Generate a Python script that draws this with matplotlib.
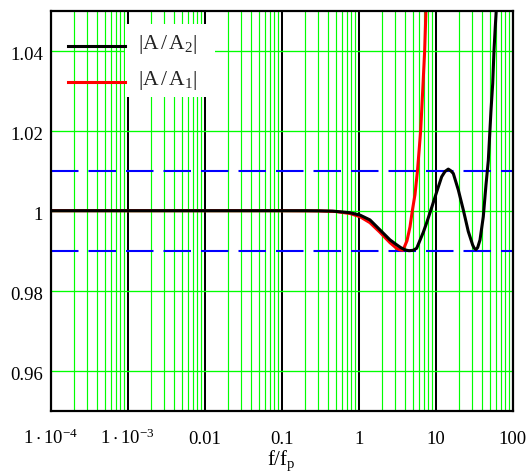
import matplotlib
matplotlib.use('Agg')
import matplotlib.pyplot as plt
import matplotlib.transforms as mtransforms
from matplotlib.patches import Rectangle
from matplotlib.lines import Line2D
from matplotlib.ticker import LogLocator, FixedLocator, NullLocator

plt.rcParams['font.family'] = ['Liberation Serif', 'DejaVu Serif']
plt.rcParams['mathtext.fontset'] = 'custom'
plt.rcParams['mathtext.rm'] = 'Liberation Serif'
plt.rcParams['mathtext.it'] = 'Liberation Serif:italic'

# ---- data ----
f_black = [1e-4, 1e-3, 1e-2, 0.1, 0.2, 0.3, 0.46, 0.77, 1.04, 1.4, 1.89, 2.55,
           3.1, 3.5, 4.0, 4.5, 5.1, 5.66, 6.25, 6.9, 7.64, 8.87, 10.3, 11.96,
           13.2, 14.57, 15.66, 16.93, 19.66, 22.83, 26.5, 30.24, 31.7, 33.38,
           35.1, 37.61, 41.51, 45.0, 48.2, 52.3, 55.0, 57.2, 59.4, 61.2, 63.0]
y_black = [1.0, 1.0, 1.0, 1.0, 1.0, 0.99997, 0.9999, 0.9995, 0.9989, 0.9977,
           0.9952, 0.9927, 0.9915, 0.9908, 0.9902, 0.9900, 0.9901, 0.9906,
           0.9926, 0.9946, 0.9970, 1.0008, 1.0047, 1.0085, 1.0098, 1.0104,
           1.0100, 1.0093, 1.0052, 1.0002, 0.9948, 0.9914, 0.9906, 0.9903,
           0.9908, 0.9927, 0.9985, 1.0065, 1.0125, 1.0252, 1.0318, 1.0402,
           1.0460, 1.0502, 1.056]

f_red = [1e-4, 1e-2, 0.1, 0.3, 0.5, 0.77, 1.04, 1.4, 1.89, 2.55, 3.1, 3.44,
         3.76, 4.24, 4.64, 4.97, 5.38, 5.8, 6.38, 6.8, 7.19, 7.47, 7.8]
y_red = [1.0, 1.0, 1.0, 0.99995, 0.9998, 0.9993, 0.9985, 0.9970, 0.9946,
         0.9920, 0.9906, 0.9902, 0.9901, 0.9925, 0.9960, 1.0, 1.0040, 1.01,
         1.02, 1.0305, 1.04, 1.05, 1.06]

limits = [0.99, 1.01]

x_ticks = [1e-4, 1e-3, 1e-2, 0.1, 1, 10, 100]
x_ticklabels = [r'$\mathregular{1\cdot10^{-4}}$', r'$\mathregular{1\cdot10^{-3}}$',
                '0.01', '0.1', '1', '10', '100']
y_ticks = [0.96, 0.98, 1.00, 1.02, 1.04]
y_ticklabels = ['0.96', '0.98', '1', '1.02', '1.04']

label_black = r'$\mathregular{|A\,/\,A_2|}$'
label_red = r'$\mathregular{|A\,/\,A_1|}$'
x_label = r'$\mathregular{f/f_p}$'

# ---- figure ----
W, H, DPI = 532, 473, 100
fig = plt.figure(figsize=(W / DPI, H / DPI), dpi=DPI)
L, R, T, B = 50.7, 512.7, 10.7, 410.7
ax = fig.add_axes([L / W, 1 - B / H, (R - L) / W, (B - T) / H])
ax.set_xscale('log')
ax.set_xlim(1e-4, 100)
ax.set_ylim(0.95, 1.05)

ax.xaxis.set_major_locator(FixedLocator(x_ticks))
ax.xaxis.set_minor_locator(LogLocator(base=10, subs=range(2, 10), numticks=50))
ax.yaxis.set_major_locator(FixedLocator(y_ticks))
ax.yaxis.set_minor_locator(NullLocator())
ax.set_xticks(x_ticks)
ax.set_xticklabels(x_ticklabels)
ax.set_yticks(y_ticks)
ax.set_yticklabels(y_ticklabels)

ax.set_axisbelow(True)
ax.grid(which='minor', axis='x', color='#00ff00', lw=0.85, alpha=1.0, zorder=0)
ax.grid(which='major', axis='x', color='black', lw=1.45, alpha=1.0, zorder=0.5)
ax.grid(which='major', axis='y', color='#00ff00', lw=0.95, alpha=1.0, zorder=0)

for s in ax.spines.values():
    s.set_linewidth(1.6)
    s.set_color('black')
    s.set_zorder(6)

for lv in limits:
    ax.axhline(lv, color='#0000ff', lw=1.5, dashes=(19.8 / 1.5, 7.2 / 1.5), zorder=2)

ax.plot(f_red, y_red, color='#ff0000', lw=2.2, zorder=3, solid_capstyle='butt')
ax.plot(f_black, y_black, color='black', lw=2.2, zorder=4, solid_capstyle='butt')

# legend (manual, mimicking the original layout)
def fx(px):
    return (px - L) / (R - L)

def fy(py):
    return (B - py) / (B - T)

ax.add_patch(Rectangle((fx(125), fy(97.3)), fx(215) - fx(125), fy(24) - fy(97.3),
                       transform=ax.transAxes, facecolor='white', edgecolor='none',
                       zorder=5))
ax.add_line(Line2D([fx(68.3), fx(125)], [fy(45.7), fy(45.7)], transform=ax.transAxes,
                   color='black', lw=2.2, zorder=5))
ax.add_line(Line2D([fx(68.3), fx(125)], [fy(81.7), fy(81.7)], transform=ax.transAxes,
                   color='#ff0000', lw=2.2, zorder=5))
ax.text(fx(137.5), fy(49.3), label_black, transform=ax.transAxes, fontsize=15.5,
        ha='left', va='baseline', color='#222222', zorder=6)
ax.text(fx(137.5), fy(85.0), label_red, transform=ax.transAxes, fontsize=15.5,
        ha='left', va='baseline', color='#222222', zorder=6)

# tick label styling
ax.tick_params(axis='both', which='both', length=0)
ax.tick_params(axis='x', labelsize=13.5, pad=(444 - B) * 72 / DPI)
ax.tick_params(axis='y', labelsize=13.5, pad=(L - 43) * 72 / DPI)
for t in ax.get_xticklabels():
    t.set_va('baseline')
off = mtransforms.ScaledTranslation(0, -9.0 / DPI, fig.dpi_scale_trans)
for t in ax.get_yticklabels():
    t.set_va('baseline')
    t.set_transform(t.get_transform() + off)

ax.set_xlabel(x_label, fontsize=15)
ax.xaxis.set_label_coords(0.5, fy(465))
ax.xaxis.label.set_va('baseline')

fig.savefig('out.png', dpi=DPI)
